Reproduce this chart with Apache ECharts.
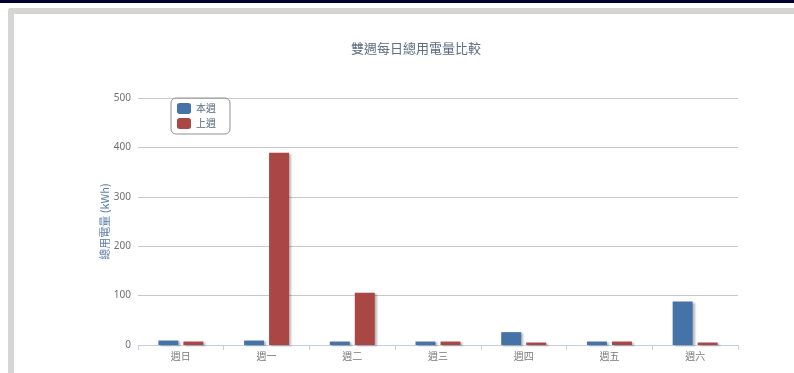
<!DOCTYPE html>
<html>
<head>
<meta charset="utf-8">
<script src="https://cdn.jsdelivr.net/npm/echarts@6/dist/echarts.min.js"></script>
<style>
  html, body { margin: 0; padding: 0; width: 794px; height: 373px; overflow: hidden; background: #ffffff; }
  #topbar { position: absolute; left: 0; top: 0; width: 794px; height: 3px; background: #000033; }
  #frame { position: absolute; left: 8px; top: 8px; width: 800px; height: 380px;
           border-left: 6px solid #d5d5d5; border-top: 6px solid #d5d5d5;
           border-top-left-radius: 3px; background: #ffffff; }
  #chart { position: absolute; left: 0; top: 0; width: 794px; height: 373px; }
</style>
</head>
<body>
<div id="topbar"></div>
<div id="frame"></div>
<div id="chart"></div>
<script>
// Daily consumption for this week and last week, Sunday through Saturday
const categories = ['週日', '週一', '週二', '週三', '週四', '週五', '週六'];
const thisWeek = [9, 9, 7, 7, 26, 7, 88];
const lastWeek = [7, 389, 106, 7, 5, 7, 5];
const seriesNames = ['本週', '上週'];
const yTicks = { min: 0, max: 500, interval: 100 };

const chart = echarts.init(document.getElementById('chart'), null, { renderer: 'canvas' });

const barShadow = {
  shadowColor: 'rgba(0,0,0,0.28)',
  shadowBlur: 2,
  shadowOffsetX: 2,
  shadowOffsetY: 1
};

chart.setOption({
  backgroundColor: 'transparent',
  animation: false,
  title: {
    text: '雙週每日總用電量比較',
    left: 346,
    top: 37,
    textStyle: { color: '#5d6d82', fontSize: 13, fontWeight: 'normal', fontFamily: 'Noto Sans CJK TC' }
  },
  legend: {
    data: seriesNames,
    orient: 'vertical',
    left: 171,
    top: 98,
    padding: [5, 14, 5, 6],
    itemGap: 4,
    itemWidth: 14,
    itemHeight: 11,
    icon: 'roundRect',
    borderColor: '#909090',
    borderWidth: 1,
    borderRadius: 5,
    textStyle: { color: '#56677c', fontSize: 10, fontFamily: 'Noto Sans CJK TC', padding: [0, 0, 0, 0] }
  },
  grid: { left: 138, right: 56, top: 98, bottom: 28 },
  xAxis: {
    type: 'category',
    data: categories,
    axisLine: { lineStyle: { color: '#C0D0E0', width: 1 } },
    axisTick: { show: true, alignWithLabel: false, length: 5, lineStyle: { color: '#C0D0E0' } },
    axisLabel: { color: '#7a7a7a', fontSize: 10, margin: 6, fontFamily: 'Noto Sans CJK TC' }
  },
  yAxis: {
    type: 'value',
    min: yTicks.min,
    max: yTicks.max,
    interval: yTicks.interval,
    name: '總用電量 (kWh)',
    nameLocation: 'middle',
    nameRotate: 90,
    nameGap: 28,
    nameMoveOverlap: false,
    nameTextStyle: { color: '#5b7fae', fontSize: 11, fontFamily: 'Noto Sans CJK TC' },
    axisLine: { show: false },
    axisTick: { show: false },
    axisLabel: { color: '#707070', fontSize: 10, margin: 7, fontFamily: 'Noto Sans' },
    splitLine: { lineStyle: { color: '#C8C8C8', width: 1 } }
  },
  series: [
    {
      name: seriesNames[0],
      type: 'bar',
      data: thisWeek,
      barWidth: 20,
      barGap: '25%',
      itemStyle: Object.assign({ color: '#4572A7' }, barShadow)
    },
    {
      name: seriesNames[1],
      type: 'bar',
      data: lastWeek,
      barWidth: 20,
      barGap: '25%',
      itemStyle: Object.assign({ color: '#AA4643' }, barShadow)
    }
  ]
});
</script>
</body>
</html>
